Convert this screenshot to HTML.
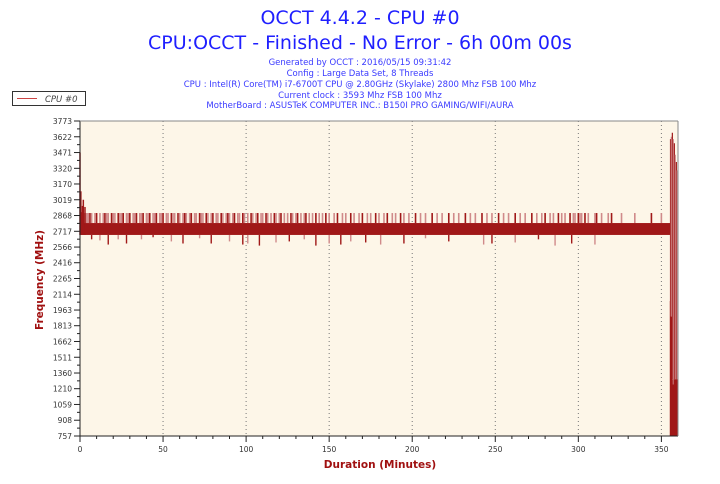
<!DOCTYPE html>
<html><head><meta charset="utf-8"><style>
body{margin:0;width:720px;height:480px;background:#fff;overflow:hidden;font-family:"DejaVu Sans","Liberation Sans",sans-serif}
</style></head><body>
<svg id="chart" width="720" height="480" xmlns="http://www.w3.org/2000/svg" font-family="DejaVu Sans, Liberation Sans, sans-serif">
<text x="360" y="24" text-anchor="middle" font-size="19" fill="#1f1fff">OCCT 4.4.2 - CPU #0</text>
<text x="360" y="49" text-anchor="middle" font-size="19" fill="#1f1fff">CPU:OCCT - Finished - No Error - 6h 00m 00s</text>
<g font-size="8.5" fill="#3a3aff" text-anchor="middle">
<text x="360" y="65">Generated by OCCT : 2016/05/15 09:31:42</text>
<text x="360" y="76">Config : Large Data Set, 8 Threads</text>
<text x="360" y="87">CPU : Intel(R) Core(TM) i7-6700T CPU @ 2.80GHz (Skylake) 2800 Mhz FSB 100 Mhz</text>
<text x="360" y="98">Current clock : 3593 Mhz FSB 100 Mhz</text>
<text x="360" y="108">MotherBoard : ASUSTeK COMPUTER INC.: B150I PRO GAMING/WIFI/AURA</text>
</g>
<g>
<rect x="12.5" y="91.5" width="73" height="14" fill="#fff" stroke="#333"/>
<line x1="17" y1="98.5" x2="37" y2="98.5" stroke="#c44" stroke-width="1"/>
<text x="45" y="102" font-size="8.5" font-style="italic" fill="#444">CPU #0</text>
</g>
<rect x="80" y="121" width="598" height="315" fill="#fdf6e8"/>
<g id="grid"></g><g id="marks"></g><g id="axes"></g>
<text x="380" y="468" text-anchor="middle" font-size="10.5" font-weight="bold" fill="#a01010">Duration (Minutes)</text>
<text transform="translate(43,280) rotate(-90)" text-anchor="middle" font-size="10.5" font-weight="bold" fill="#a01010">Frequency (MHz)</text>
</svg>
<script>
const yTicks=[757,908,1059,1210,1360,1511,1662,1813,1963,2114,2265,2416,2566,2717,2868,3019,3170,3320,3471,3622,3773];
const xTicks=[0,50,100,150,200,250,300,350];
const bandLow=2682,bandHigh=2796;
const spikeTimes=[3,4,5,6,7,9,10,12,14,15,16,17,19,20,21,23,24,25,26,28,29,30,32,33,34,36,37,38,40,41,42,44,45,46,48,49,50,52,53,55,56,57,59,60,62,63,64,66,67,69,70,72,73,74,76,77,79,80,82,83,85,86,88,89,90,92,93,95,96,98,99,101,103,104,106,107,109,110,112,113,115,117,118,120,121,123,125,127,128,130,131,133,135,136,138,140,142,144,146,148,150,153,155,158,160,163,165,168,170,173,175,178,180,183,185,188,190,193,195,198,202,205,208,212,215,218,222,225,228,232,235,238,242,245,248,252,255,258,262,265,268,272,275,278,280,283,285,288,290,292,295,297,298,300,301,302,304,306,310,311,314,318,320,326,334,344,350];
const spikeValues=spikeTimes.map(()=>2892);
const dipTimes=[7,12,17,23,28,37,44,55,62,72,79,90,98,101,108,118,126,135,142,150,157,163,172,181,195,208,222,243,248,262,276,286,296,310];
const dipValues=[2640,2630,2590,2640,2600,2640,2660,2620,2600,2650,2600,2620,2590,2600,2580,2610,2620,2640,2580,2600,2590,2620,2610,2590,2600,2650,2620,2590,2600,2610,2640,2580,2600,2590];
const startTimes=[0,0.5,1,1.5,2,3];
const startValues=[3471,3100,2900,2960,3019,2950];
const endTimes=[355.5,356,356.6,357.2,357.8,358.4,359,359.5];
const endValues=[3600,3622,3660,3600,3560,3450,3380,3300];
const endBaseValues=[2050,1900,1300,1250,1300,1300,1300,1300];
const X0=80,X1=678,Y0=436,Y1=121,XMAX=360;
const sx=v=>X0+v/XMAX*(X1-X0);
const sy=v=>Y0-(v-757)/(3773-757)*(Y0-Y1);
const NS="http://www.w3.org/2000/svg";
function mk(tag,attrs,parent){const e=document.createElementNS(NS,tag);for(const k in attrs)e.setAttribute(k,attrs[k]);parent.appendChild(e);return e;}
const grid=document.getElementById('grid'),marks=document.getElementById('marks'),axes=document.getElementById('axes');
xTicks.forEach(t=>{if(t>0){const l=mk('line',{x1:sx(t),x2:sx(t),y1:Y1,y2:Y0,stroke:'#777','stroke-dasharray':'1,3'},grid);

}});
spikeTimes.forEach((t,i)=>{const l=mk('line',{x1:sx(t),x2:sx(t),y1:sy(spikeValues[i]),y2:sy(bandHigh),stroke:i%3?'#d08a8a':'#a01818','stroke-width':1.6},marks);

});
dipTimes.forEach((t,i)=>{const l=mk('line',{x1:sx(t),x2:sx(t),y1:sy(bandLow),y2:sy(dipValues[i]),stroke:i%2?'#d08a8a':'#a01818','stroke-width':1.4},marks);

});
const band=mk('rect',{x:sx(2),y:sy(bandHigh),width:sx(355.5)-sx(2),height:sy(bandLow)-sy(bandHigh),fill:'#a01818'},marks);


startTimes.forEach((t,i)=>{const l=mk('line',{x1:sx(t),x2:sx(t),y1:sy(startValues[i]),y2:sy(bandLow),stroke:'#a01818','stroke-width':1.5},marks);

});
endTimes.forEach((t,i)=>{const l=mk('line',{x1:sx(t),x2:sx(t),y1:sy(endValues[i]),y2:sy(endBaseValues[i]),stroke:i%2?'#d09090':'#a01818','stroke-width':1.2},marks);


const b=mk('line',{x1:sx(t),x2:sx(t),y1:sy(endBaseValues[i]),y2:Y0,stroke:'#a01818','stroke-width':1.5},marks);

});
mk('line',{x1:X0,x2:X0,y1:Y1,y2:Y0,stroke:'#222'},axes);
mk('line',{x1:X0,x2:X1,y1:Y0,y2:Y0,stroke:'#222'},axes);
mk('line',{x1:X0,x2:X1,y1:Y1,y2:Y1,stroke:'#888'},axes);
mk('line',{x1:X1,x2:X1,y1:Y1,y2:Y0,stroke:'#888'},axes);
yTicks.forEach((t,i)=>{mk('line',{x1:X0-6,x2:X0,y1:sy(t),y2:sy(t),stroke:'#222'},axes);
if(i<yTicks.length-1)mk('line',{x1:X0-3,x2:X0,y1:(sy(t)+sy(yTicks[i+1]))/2,y2:(sy(t)+sy(yTicks[i+1]))/2,stroke:'#222'},axes);
const tx=mk('text',{x:X0-8,y:sy(t)+3,'text-anchor':'end','font-size':7.5,fill:'#333'},axes);tx.textContent=t;

});
xTicks.forEach(t=>{mk('line',{x1:sx(t),x2:sx(t),y1:Y0,y2:Y0+6,stroke:'#222'},axes);
for(let k=1;k<5;k++){const m=t+k*10;if(m<XMAX)mk('line',{x1:sx(m),x2:sx(m),y1:Y0,y2:Y0+3,stroke:'#222'},axes);}
const tx=mk('text',{x:sx(t),y:Y0+16,'text-anchor':'middle','font-size':7.5,fill:'#333'},axes);tx.textContent=t;

});
</script>
</body></html>
